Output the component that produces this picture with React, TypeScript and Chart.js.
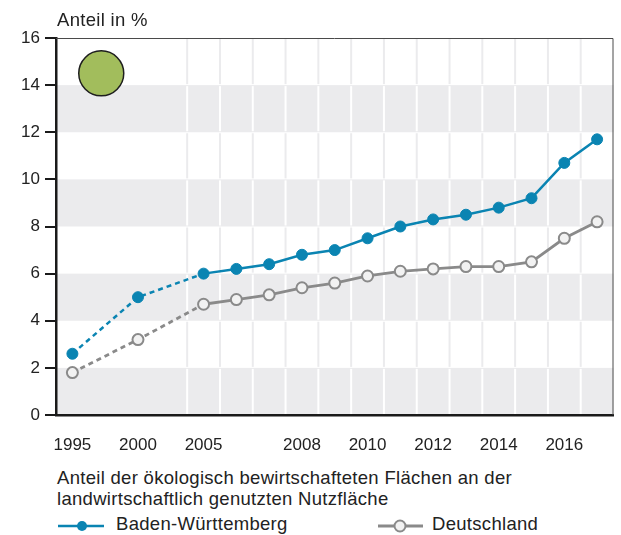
import React, { useEffect, useRef } from 'react';
import { Chart, registerables } from 'chart.js';

Chart.register(...registerables);

const categories = ['1995', '', '2000', '', '2005', '2006', '2007', '2008', '2009', '2010', '2011', '2012', '2013', '2014', '2015', '2016', '2017'];
const shownTicks = ['1995', '2000', '2005', '2008', '2010', '2012', '2014', '2016'];
const bwValues = [2.6, null, 5.0, null, 6.0, 6.2, 6.4, 6.8, 7.0, 7.5, 8.0, 8.3, 8.5, 8.8, 9.2, 10.7, 11.7];
const deValues = [1.8, null, 3.2, null, 4.7, 4.9, 5.1, 5.4, 5.6, 5.9, 6.1, 6.2, 6.3, 6.3, 6.5, 7.5, 8.2];
const seriesNames = ['Baden-Württemberg', 'Deutschland'];
const yAxisTitle = 'Anteil in %';
const captionLines = ['Anteil der ökologisch bewirtschafteten Flächen an der', 'landwirtschaftlich genutzten Nutzfläche'];

const BLUE = '#0a84b2';
const GRAY = '#8a8a8a';
const BAND = '#ebebed';
const FONT = '"Liberation Sans", Arial, sans-serif';
const TEXT = '#222222';

const bandsPlugin = {
  id: 'bands',
  beforeDraw(chart: any) {
    const { ctx, chartArea, scales } = chart;
    const { left, right } = chartArea;
    const x = scales.x;
    const y = scales.y;
    ctx.save();
    for (let v = 0; v < 16; v += 2) {
      const yTop = y.getPixelForValue(v + 2);
      const yBot = y.getPixelForValue(v);
      const gray = (v / 2) % 2 === 0;
      if (gray) {
        ctx.fillStyle = BAND;
        ctx.fillRect(left, yTop, right - left, yBot - yTop);
      }
      ctx.strokeStyle = gray ? '#ffffff' : BAND;
      ctx.lineWidth = 2;
      for (let i = 4; i < categories.length; i++) {
        const xb = (x.getPixelForValue(i - 1) + x.getPixelForValue(i)) / 2;
        ctx.beginPath();
        ctx.moveTo(xb, yTop + 1);
        ctx.lineTo(xb, yBot - 1);
        ctx.stroke();
      }
    }
    ctx.restore();
  },
  afterDatasetsDraw(chart: any) {
    const { ctx, chartArea, scales } = chart;
    ctx.save();
    // frame top/right
    ctx.strokeStyle = '#4a4a4a';
    ctx.lineWidth = 1;
    ctx.beginPath();
    ctx.moveTo(chartArea.left, chartArea.top + 0.5);
    ctx.lineTo(chartArea.right - 0.5, chartArea.top + 0.5);
    ctx.lineTo(chartArea.right - 0.5, chartArea.bottom);
    ctx.stroke();
    // green circle decoration
    const cx = scales.x.getPixelForValue(0.88);
    const cy = scales.y.getPixelForValue(14.5);
    ctx.beginPath();
    ctx.arc(cx, cy, 22.5, 0, Math.PI * 2);
    ctx.fillStyle = '#a2bd5c';
    ctx.fill();
    ctx.strokeStyle = '#1e1e1e';
    ctx.lineWidth = 1.5;
    ctx.stroke();
    ctx.restore();
  },
};

export default function App() {
  const canvasRef = useRef<HTMLCanvasElement | null>(null);

  useEffect(() => {
    if (!canvasRef.current) return;
    const dashed = (ctx: any) => (ctx.p1DataIndex <= 4 ? [5, 4] : undefined);
    const chart = new Chart(canvasRef.current, {
      type: 'line',
      data: {
        labels: categories,
        datasets: [
          {
            label: seriesNames[1],
            data: deValues,
            borderColor: GRAY,
            backgroundColor: '#f2f2f2',
            borderWidth: 2.8,
            pointRadius: 5.5,
            pointBorderWidth: 2,
            pointBackgroundColor: '#f2f2f2',
            pointBorderColor: GRAY,
            spanGaps: true,
            tension: 0,
            segment: { borderDash: dashed },
          } as any,
          {
            label: seriesNames[0],
            data: bwValues,
            borderColor: BLUE,
            backgroundColor: BLUE,
            borderWidth: 2.5,
            pointRadius: 5.5,
            pointBorderWidth: 1,
            pointBackgroundColor: BLUE,
            pointBorderColor: BLUE,
            spanGaps: true,
            tension: 0,
            segment: { borderDash: dashed },
          } as any,
        ],
      },
      options: {
        animation: false,
        responsive: false,
        layout: { padding: { left: 0, right: 6, top: 38, bottom: 0 } },
        plugins: {
          legend: { display: false },
          tooltip: { enabled: false },
          title: { display: false },
        },
        scales: {
          x: {
            type: 'category',
            offset: true,
            grid: { display: false },
            border: { display: true, color: '#1a1a1a', width: 2.5 },
            ticks: {
              autoSkip: false,
              maxRotation: 0,
              padding: 12,
              color: TEXT,
              font: { family: FONT, size: 17 },
              callback: (_v: any, i: number) => (shownTicks.includes(categories[i]) ? categories[i] : ''),
            },
            afterFit: (scale: any) => {
              scale.height = 40;
            },
          },
          y: {
            min: 0,
            max: 16,
            grid: {
              display: true,
              drawOnChartArea: false,
              drawTicks: true,
              tickLength: 11,
              color: '#1a1a1a',
              lineWidth: 2,
            },
            border: { display: true, color: '#1a1a1a', width: 2.5 },
            ticks: {
              stepSize: 2,
              padding: 5,
              color: TEXT,
              font: { family: FONT, size: 17 },
            },
            afterFit: (scale: any) => {
              scale.width = 56;
            },
          },
        },
      },
      plugins: [bandsPlugin],
    });
    return () => chart.destroy();
  }, []);

  const textStyle: React.CSSProperties = {
    position: 'absolute',
    fontFamily: FONT,
    fontSize: '18.5px',
    letterSpacing: '0.3px',
    lineHeight: '20.5px',
    color: TEXT,
    whiteSpace: 'nowrap',
  };

  return (
    <div style={{ position: 'fixed', left: 0, top: 0, width: 621, height: 535, background: '#fff', overflow: 'hidden' }}>
      <canvas ref={canvasRef} width={621} height={455} style={{ position: 'absolute', left: 0, top: 0, width: 621, height: 455 }} />
      <div style={{ ...textStyle, left: 57, top: 10 }}>{yAxisTitle}</div>
      <div style={{ ...textStyle, left: 57, top: 468 }}>
        {captionLines[0]}
        <br />
        {captionLines[1]}
      </div>
      <svg style={{ position: 'absolute', left: 56, top: 516 }} width={50} height={20}>
        <line x1={2} y1={10} x2={48} y2={10} stroke={BLUE} strokeWidth={2.5} />
        <circle cx={26} cy={10} r={5} fill={BLUE} />
      </svg>
      <div style={{ ...textStyle, left: 116, top: 514 }}>{seriesNames[0]}</div>
      <svg style={{ position: 'absolute', left: 376, top: 516 }} width={50} height={20}>
        <line x1={2} y1={10} x2={47} y2={10} stroke={GRAY} strokeWidth={2.8} />
        <circle cx={24} cy={10} r={5.5} fill="#f2f2f2" stroke={GRAY} strokeWidth={2} />
      </svg>
      <div style={{ ...textStyle, left: 432, top: 514 }}>{seriesNames[1]}</div>
    </div>
  );
}
